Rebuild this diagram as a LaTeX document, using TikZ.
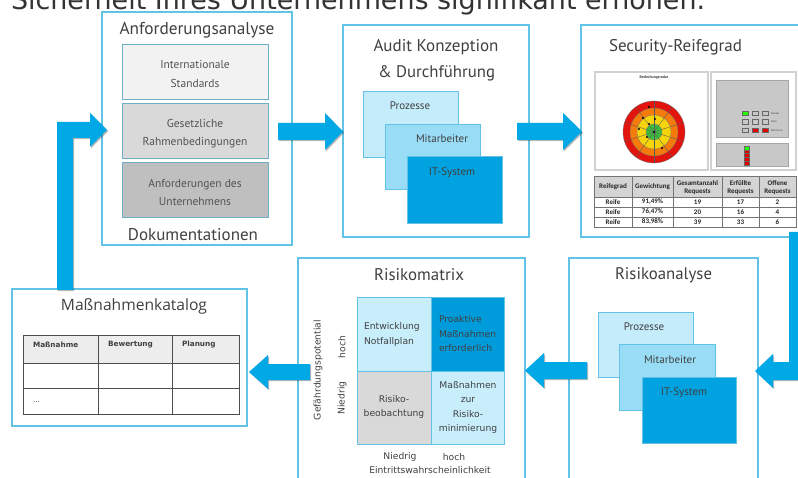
\documentclass[tikz,border=0pt]{standalone}
\usepackage{fontspec}
\usepackage{graphicx}
\usetikzlibrary{shadows}
\setmainfont{PT Sans}
\newfontfamily\dejv{DejaVu Sans}
\newfontfamily\carl{Carlito}
\newfontfamily\opsans{Open Sans}
\definecolor{frame}{HTML}{63C3E6}
\definecolor{arrowc}{HTML}{00A8E6}
\definecolor{proc}{HTML}{C4ECFB}
\definecolor{mitc}{HTML}{99DCF6}
\definecolor{itc}{HTML}{00A2DF}
\definecolor{txt}{HTML}{404040}
\definecolor{gA}{HTML}{F2F2F2}
\definecolor{gB}{HTML}{D9D9D9}
\definecolor{gC}{HTML}{BFBFBF}
\definecolor{cellL}{HTML}{C8EEFC}
\definecolor{cellD}{HTML}{009BDB}
\definecolor{panelg}{HTML}{C8C8C8}
\definecolor{radred}{HTML}{E3140E}
\definecolor{radora}{HTML}{F47A0C}
\definecolor{radyel}{HTML}{F6D40C}
\definecolor{radgrn}{HTML}{3CBF3C}
\definecolor{gridc}{HTML}{4D4D4D}
\newcommand\rectnode[6]{\node[#2, anchor=north west, minimum width={(#5-#3)*1pt}, minimum height={(#6-#4)*1pt}] (#1) at (#3,#4) {};}
\newcommand\fitw[2]{\resizebox{#1pt}{!}{#2}}
\begin{document}
\begin{tikzpicture}[x=1pt,y=-1pt,
 every node/.style={inner sep=0pt, outer sep=0pt},
 fbox/.style={draw=frame, line width=1.1pt, fill=white},
 title/.style={text=txt},
 inbox/.style={draw=frame!70!gray, line width=0.8pt},
 smalltxt/.style={text=txt!90!white, font=\fontsize{11.5}{18.5}\selectfont, align=center},
 lyr/.style={draw=frame, line width=0.9pt},
 lyrtxt/.style={text=txt, font=\fontsize{11}{12}\selectfont},
 mtxt/.style={text=txt, font=\dejv\fontsize{9.2}{14.5}\selectfont},
 tabtxt/.style={text=black!85, font=\carl\bfseries\fontsize{7}{8.5}\selectfont, align=center},
 katxt/.style={text=txt, font=\dejv\bfseries\fontsize{7.3}{9}\selectfont, anchor=west},
 blockarrow/.style={fill=arrowc, drop shadow={opacity=0.28, shadow xshift=1.2pt, shadow yshift=-1.2pt, fill=black}},
]
\useasboundingbox (0,0) rectangle (798,478);
\clip (0,0) rectangle (798,478);
\fill[white] (0,0) rectangle (798,478);

% heading (cut off at top, as in the reference)
\node[anchor=base west, text=black!80] (head) at (11,9.5) {\fitw{694}{\dejv Sicherheit Ihres Unternehmens signifikant erhöhen.}};

% ---------- Anforderungsanalyse ----------
\rectnode{anf}{fbox}{102}{12}{292}{245}
\node[title] (anft) at (197,30) {\fitw{155}{Anforderungsanalyse}};
\rectnode{anf1}{inbox, fill=gA}{122}{44}{268}{99}
\rectnode{anf2}{inbox, fill=gB}{122}{103}{268}{158}
\rectnode{anf3}{inbox, fill=gC}{122}{162}{268}{217}
\node[smalltxt] (anf1t) at (195,74) {Internationale\\Standards};
\node[smalltxt] (anf2t) at (195,133.5) {Gesetzliche\\Rahmenbedingungen};
\node[smalltxt] (anf3t) at (195,192.5) {Anforderungen des\\Unternehmens};
\node[title] (doku) at (193,235) {\fitw{130}{Dokumentationen}};

% ---------- Audit ----------
\rectnode{aud}{fbox}{343}{25}{529}{237}
\node[title] (audt1) at (436,47) {\fitw{125}{Audit Konzeption}};
\node[title] (audt2) at (436.5,73) {\fitw{117}{\& Durchführung}};
\rectnode{audp}{lyr, fill=proc}{363}{91}{458}{157}
\rectnode{audm}{lyr, fill=mitc}{385}{124}{480}{189}
\rectnode{audi}{lyr, fill=itc}{407}{156}{502}{223}
\node[lyrtxt] (audpt) at (410,106) {Prozesse};
\node[lyrtxt] (audmt) at (442,139) {Mitarbeiter};
\node[lyrtxt] (audit) at (452,173) {IT-System};

% ---------- Security-Reifegrad ----------
\rectnode{sec}{fbox}{581}{25}{820}{237}
\node[title] (sect) at (675.5,47) {\fitw{133}{Security-Reifegrad}};
\rectnode{radp}{draw=black!18, line width=1.4pt, fill=white}{595}{72}{708}{170}
\rectnode{stp}{draw=black!18, line width=1.4pt, fill=white}{711}{72}{796}{170}
\node[font=\carl\bfseries\fontsize{4}{4}\selectfont, text=black!80] (radt) at (654,77) {Bedrohungsradar};
\begin{scope}[shift={(654,132)}]
 \fill[radred] (0,0) circle[radius=31pt];
 \fill[radora] (0,0) circle[radius=24pt];
 \fill[radyel] (0,0) circle[radius=17pt];
 \fill[radgrn] (0,0) circle[radius=8pt];
 \foreach \r in {8,17,24,31} \draw[black!55, line width=0.3pt] (0,0) circle[radius=\r pt];
 \foreach \a in {18,54,...,342} \draw[black!65, line width=0.35pt] (0,0) -- (\a:31pt);
\end{scope}
\foreach \p in {(649,107),(643,118),(655,119),(639,129),(649,124),(647,137),(662,148),(654,132)}
 \fill[black] \p circle[radius=1.1pt];
\rectnode{stu}{draw=black!35, line width=0.5pt, fill=panelg}{716}{80}{788}{137}
\rectnode{stl}{draw=black!35, line width=0.5pt, fill=panelg}{716}{143}{788}{166}
\foreach \x/\y/\c in {742/111/green!80!lime, 752/111/panelg, 762/111/panelg,
                      742/119.5/panelg, 752/119.5/panelg, 762/119.5/panelg,
                      742/128/panelg, 752/128/red!90!black, 762/128/red!90!black}
 \draw[black!60, line width=0.4pt, fill=\c] (\x,\y) rectangle ++(6,4.5);
\node[anchor=west, font=\fontsize{2.6}{3}\selectfont, text=black!80] (stn) at (771,113.3) {Normal};
\node[anchor=west, font=\fontsize{2.6}{3}\selectfont, text=black!80] (sth) at (771,121.8) {Hoch};
\node[anchor=west, font=\fontsize{2.6}{3}\selectfont, text=black!80] (sts) at (771,130.3) {Sehr Hoch};
\foreach \y/\c in {146/green!80!lime, 149.8/red!90!black, 153.6/red!90!black, 157.4/red!90!black, 161.2/red!90!black}
 \draw[black!60, line width=0.3pt, fill=\c] (744,\y) rectangle ++(5,3.8);
% table
\fill[black!17] (594,176) rectangle (796,197);
\draw[black!55, line width=0.6pt] (594,176) rectangle (796,227);
\foreach \y in {197,207,217} \draw[black!55, line width=0.6pt] (594,\y) -- (796,\y);
\foreach \x in {632,673,722,759} \draw[black!55, line width=0.6pt] (\x,176) -- (\x,227);
\node[tabtxt] (h1) at (613,187) {Reifegrad};
\node[tabtxt] (h2) at (652.5,187) {Gewichtung};
\node[tabtxt] (h3) at (697.5,187.5) {Gesamtanzahl\\Requests};
\node[tabtxt] (h4) at (740.5,187.5) {Erfüllte\\Requests};
\node[tabtxt] (h5) at (777.5,187.5) {Offene\\Requests};
\foreach \y/\a/\b/\c/\d in {202/{91,49\%}/19/17/2, 212/{76,47\%}/20/16/4, 222/{83,98\%}/39/33/6}{
 \node[tabtxt] at (613,\y) {Reife};
 \node[tabtxt] at (652.5,\y) {\a};
 \node[tabtxt] at (697.5,\y) {\b};
 \node[tabtxt] at (740.5,\y) {\c};
 \node[tabtxt] at (777.5,\y) {\d};
}

% ---------- Risikomatrix ----------
\rectnode{rmat}{fbox}{298}{258}{525}{500}
\node[title] (rmatt) at (419,275) {\fitw{90}{Risikomatrix}};
\rectnode{ctl}{draw=frame, line width=1pt, fill=cellL}{357}{298}{431}{371}
\rectnode{ctr}{draw=frame, line width=1pt, fill=cellD}{431}{298}{504}{371}
\rectnode{cbl}{draw=frame, line width=1pt, fill=gB}{357}{371}{431}{444}
\rectnode{cbr}{draw=frame, line width=1pt, fill=cellL}{431}{371}{504}{444}
\node[mtxt, align=left, anchor=west] (ctlt) at (364,334.5) {Entwicklung\\Notfallplan};
\node[mtxt, align=left, anchor=west] (ctrt) at (439,334) {Proaktive\\Maßnahmen\\erforderlich};
\node[mtxt, align=center] (cblt) at (394,407) {Risiko-\\beobachtung};
\node[mtxt, align=center] (cbrt) at (468,407.5) {Maßnahmen\\zur\\Risiko-\\minimierung};
\node[mtxt, rotate=90] (gef) at (318,370) {Gefährdungspotential};
\node[mtxt, rotate=90] (yhoch) at (342,347) {hoch};
\node[mtxt, rotate=90] (ynied) at (342,398) {Niedrig};
\node[mtxt] (xnied) at (400,457) {Niedrig};
\node[mtxt] (xhoch) at (454,457) {hoch};
\node[mtxt] (eintr) at (430,470) {Eintrittswahrscheinlichkeit};

% ---------- Risikoanalyse ----------
\rectnode{rana}{fbox}{569}{258}{758}{500}
\node[title] (ranat) at (663.5,275) {\fitw{97}{Risikoanalyse}};
\rectnode{ranp}{lyr, fill=proc}{598}{312}{693}{377}
\rectnode{ranm}{lyr, fill=mitc}{619}{344}{715}{410}
\rectnode{rani}{lyr, fill=itc}{642}{377}{736}{443}
\node[lyrtxt] (ranpt) at (644,327) {Prozesse};
\node[lyrtxt] (ranmt) at (670,360) {Mitarbeiter};
\node[lyrtxt] (ranit) at (684,393) {IT-System};

% ---------- Maßnahmenkatalog ----------
\rectnode{mkat}{fbox}{12}{289}{247}{426}
\node[title] (mkatt) at (134,306) {\fitw{146}{\opsans Maßnahmenkatalog}};
\fill[black!7] (23,336) rectangle (239,363);
\draw[gridc, line width=1pt] (23,336) rectangle (239,414);
\foreach \y in {363,388} \draw[gridc, line width=1pt] (23,\y) -- (239,\y);
\foreach \x in {98,172} \draw[gridc, line width=1pt] (\x,336) -- (\x,414);
\node[katxt] (k1) at (33,345) {Maßnahme};
\node[katxt] (k2) at (108,345) {Bewertung};
\node[katxt] (k3) at (182,345) {Planung};
\node[katxt, font=\dejv\fontsize{7.3}{9}\selectfont] (k4) at (33,402) {...};

% ---------- block arrows ----------
\fill[blockarrow] (57,290) -- (57,122) -- (90,122) -- (90,113) -- (107,130) -- (90,147) -- (90,138) -- (73,138) -- (73,290) -- cycle;
\fill[blockarrow] (278,123) -- (325,123) -- (325,113) -- (343,131.5) -- (325,150) -- (325,140) -- (278,140) -- cycle;
\fill[blockarrow] (517,123) -- (563,123) -- (563,113) -- (582,131.5) -- (563,150) -- (563,140) -- (517,140) -- cycle;
\fill[blockarrow] (789,232) -- (806,232) -- (806,380) -- (773,380) -- (773,388) -- (755,371) -- (773,354) -- (773,362) -- (789,362) -- cycle;
\fill[blockarrow] (587,362) -- (544,362) -- (544,353) -- (525,370.5) -- (544,388) -- (544,379) -- (587,379) -- cycle;
\fill[blockarrow] (310,364) -- (268,364) -- (268,355) -- (249,372) -- (268,389) -- (268,380) -- (310,380) -- cycle;
\end{tikzpicture}
\end{document}
